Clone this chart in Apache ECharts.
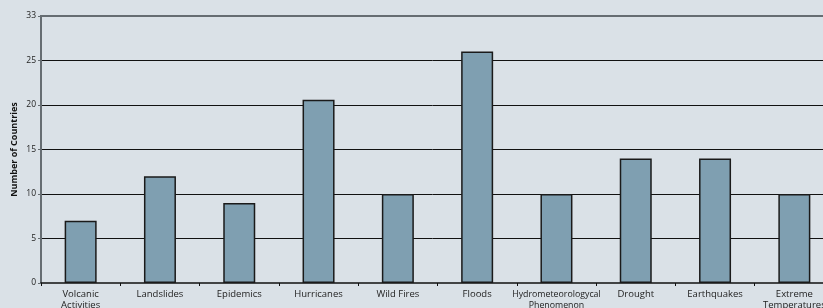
<!DOCTYPE html>
<html>
<head>
<meta charset="utf-8">
<script src="https://cdn.jsdelivr.net/npm/echarts@6/dist/echarts.min.js"></script>
<style>
  html, body { margin: 0; padding: 0; background: #dae1e7; }
  #chart { width: 823px; height: 308px; }
</style>
</head>
<body>
<div id="chart"></div>
<script>
// disaster types and number of countries
const categories = ['Volcanic\nActivities', 'Landslides', 'Epidemics', 'Hurricanes', 'Wild Fires', 'Floods',
  'Hydrometeorologycal\nPhenomenon', 'Drought', 'Earthquakes', 'Extreme\nTemperatures']
const countries = [7, 12, 9, 20.6, 10, 26, 10, 14, 14, 10]
const yTopLabel = '33'

const chart = echarts.init(document.getElementById('chart'))
chart.setOption({
  backgroundColor: '#dae1e7',
  animation: false,
  // plot runs past the right edge, last category is cut off
  grid: { left: 41, width: 793, top: 16, bottom: 25, outerBoundsMode: 'none', containLabel: false },
  xAxis: {
    type: 'category',
    data: categories,
    axisLine: { lineStyle: { color: '#111', width: 1.5 } },
    axisTick: { show: true, length: 3, lineStyle: { color: '#111' } },
    axisLabel: {
      interval: 0,
      fontFamily: 'Open Sans',
      fontSize: 9.5,
      color: '#222',
      lineHeight: 11,
      margin: 6,
      formatter: v => (v.indexOf('Hydro') === 0 ? '{s|' + v.replace('\n', '}\n{s|') + '}' : v),
      rich: { s: { fontFamily: 'Open Sans', fontSize: 8.8, color: '#222', lineHeight: 11 } }
    }
  },
  yAxis: {
    type: 'value',
    min: 0,
    max: 30,
    interval: 5,
    name: 'Number of Countries',
    nameLocation: 'middle',
    nameGap: 22,
    nameMoveOverlap: false,
    nameTextStyle: { fontFamily: 'Open Sans', fontSize: 9, fontWeight: 'bold', color: '#111' },
    axisLine: { show: true, lineStyle: { color: '#666d72', width: 2 } },
    axisTick: { show: true, length: 3, lineStyle: { color: '#666d72' } },
    axisLabel: {
      fontFamily: 'Open Sans',
      fontSize: 8.5,
      color: '#222',
      margin: 5,
      formatter: v => (v === 30 ? yTopLabel : String(v))
    },
    splitLine: {
      lineStyle: { color: ['#dae1e7', '#111', '#111', '#111', '#111', '#111', '#666d72'], width: 1 }
    }
  },
  series: [{
    type: 'bar',
    data: countries,
    barWidth: 32,
    itemStyle: { color: '#7f9fb1', borderColor: '#1a1a1a', borderWidth: 1.5 }
  }],
  graphic: [{
    type: 'line',
    shape: { x1: 40, y1: 16, x2: 823, y2: 16 },
    style: { stroke: '#666d72', lineWidth: 2 },
    z: 10
  }]
})
</script>
</body>
</html>
